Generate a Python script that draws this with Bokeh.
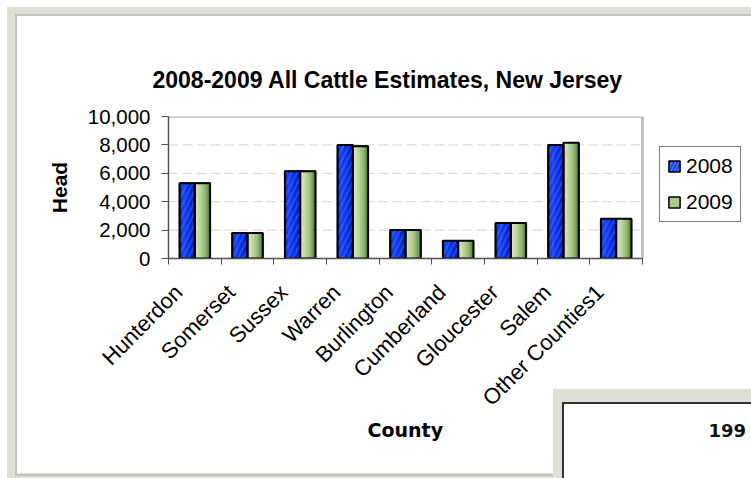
import math
from bokeh.plotting import figure
from bokeh.models import (Range1d, FixedTicker, NumeralTickFormatter, Legend, LegendItem, Title)
from bokeh.embed import file_html
from bokeh.resources import INLINE

# ---------------- data ----------------
counties = ["Hunterdon", "Somerset", "Sussex", "Warren", "Burlington",
            "Cumberland", "Gloucester", "Salem", "Other Counties1"]
head_2008 = [5300, 1800, 6150, 8000, 2000, 1250, 2500, 8000, 2800]
head_2009 = [5300, 1800, 6150, 7900, 2000, 1250, 2500, 8150, 2800]
series_names = ["2008", "2009"]
y_ticks = [0, 2000, 4000, 6000, 8000, 10000]
title_text = "2008-2009 All Cattle Estimates, New Jersey"
x_title = "County"
y_title = "Head"
other_chart_text = "199"

# ---------------- styles ----------------
FONT = "Liberation Sans"
PAGE_GRAY = "#dfdfd7"
EDGE_GRAY = "#c2c2c0"
blue_stops = [(0.0, (10, 26, 140)), (0.25, (26, 72, 255)), (0.5, (14, 52, 232)),
              (0.8, (6, 38, 200)), (1.0, (10, 30, 160))]
green_stops = [(0.0, (226, 237, 210)), (0.4, (188, 212, 156)), (0.75, (138, 178, 106)),
               (1.0, (63, 122, 44))]


def lerp(stops, t):
    for (t0, c0), (t1, c1) in zip(stops[:-1], stops[1:]):
        if t0 <= t <= t1:
            f = (t - t0) / (t1 - t0)
            return "#%02x%02x%02x" % tuple(int(round(a + (b - a) * f)) for a, b in zip(c0, c1))
    return "#%02x%02x%02x" % stops[-1][1]


W, H = 751, 478
FL, FT, FB = 168, 116, 258      # frame left / top / bottom (px)
BARS_RIGHT = 642                 # right end of the category area (px)
n = len(counties)
x_end = n * (W - FL) / (BARS_RIGHT - FL)   # frame runs on to the right edge (legend area)

p = figure(width=W, height=H, output_backend="svg", toolbar_location=None,
           x_range=Range1d(0, x_end), y_range=Range1d(0, y_ticks[-1]),
           min_border_left=FL, min_border_right=0, min_border_top=FT,
           min_border_bottom=H - FB)
p.border_fill_color = None
p.background_fill_color = "white"
p.outline_line_color = None

# page decoration (grey page, chart area, neighbouring chart box) as CSS backgrounds
layers = [  # (color, x, y, w, h) top-most first
    ("white", 564, 404, W - 564, H - 404),
    ("#333333", 562, 402, W - 562, H - 402),
    (PAGE_GRAY, 552.7, 389.3, W - 552.7, H - 389.3),
    ("white", 17, 16, W - 17, 457.5),
    (EDGE_GRAY, 15, 14, W - 15, 462),
    (PAGE_GRAY, 7, 7, W - 7, H - 7),
]
p.styles = {
    "background-color": "white",
    "background-image": ", ".join("linear-gradient(%s, %s)" % (c, c) for c, *_ in layers),
    "background-position": ", ".join("%spx %spx" % (x, y) for _, x, y, _w, _h in layers),
    "background-size": ", ".join("%spx %spx" % (w, h) for *_, w, h in layers),
    "background-repeat": "no-repeat",
}

# ---------------- grid and plot-area edges ----------------
grid_vals = y_ticks[1:-1]
p.segment(x0=[0] * len(grid_vals), x1=[n] * len(grid_vals), y0=grid_vals, y1=grid_vals,
          line_color="#d4d4d4", line_width=1, line_dash="10 4")
p.segment(x0=[0, n], x1=[n, n], y0=[y_ticks[-1], 0], y1=[y_ticks[-1], y_ticks[-1]],
          line_color=EDGE_GRAY, line_width=3)

# ---------------- bars ----------------
centers = [i + 0.5 for i in range(n)]
bar_w = 0.29
n_strips = 12
xs08 = [c - bar_w / 2 for c in centers]
xs09 = [c + bar_w / 2 for c in centers]

# base bars (also used for legend swatches)
leg08 = p.vbar(x=xs08, top=head_2008, bottom=0, width=bar_w, fill_color="#1238e0",
               hatch_pattern="/", hatch_color="#6a8cff", hatch_alpha=0.6, hatch_scale=7,
               hatch_weight=2, line_color="black", line_width=1.5)
leg09 = p.vbar(x=xs09, top=head_2009, bottom=0, width=bar_w, fill_color="#a9c88a",
               line_color="black", line_width=1.5)

series = [(head_2008, -bar_w / 2, blue_stops), (head_2009, bar_w / 2, green_stops)]
for vals, off, stops in series:
    for k in range(n_strips):
        col = lerp(stops, (k + 0.5) / n_strips)
        xs = [c + off - bar_w / 2 + (k + 0.5) * bar_w / n_strips for c in centers]
        p.vbar(x=xs, top=vals, bottom=0, width=bar_w / n_strips * 1.05,
               fill_color=col, line_color=col, line_width=0.5)

p.vbar(x=xs08, top=head_2008, bottom=0, width=bar_w, fill_color=None,
       hatch_pattern="/", hatch_color="#4f78ff", hatch_alpha=0.4, hatch_scale=11, hatch_weight=2,
       line_color="black", line_width=2)
p.vbar(x=xs09, top=head_2009, bottom=0, width=bar_w, fill_color=None,
       line_color="black", line_width=2)

legend = Legend(items=[LegendItem(label=series_names[0], renderers=[leg08]),
                       LegendItem(label=series_names[1], renderers=[leg09])],
                location=(659 - FL, FB - 222), orientation="vertical",
                border_line_color="black", border_line_width=1.2,
                background_fill_color="white", background_fill_alpha=1.0,
                label_text_font=FONT, label_text_font_size="21px", label_text_color="black",
                glyph_width=14, glyph_height=14, label_height=23, label_standoff=5,
                spacing=12, padding=7, margin=0)
p.add_layout(legend)

# ---------------- axes ----------------
p.xgrid.grid_line_color = None
p.ygrid.grid_line_color = None

p.yaxis.ticker = FixedTicker(ticks=y_ticks)
p.yaxis.formatter = NumeralTickFormatter(format="0,0")
p.yaxis.major_label_text_font = FONT
p.yaxis.major_label_text_font_size = "20.5px"
p.yaxis.major_label_text_color = "black"
p.yaxis.major_tick_out = 7
p.yaxis.major_tick_in = 0
p.yaxis.minor_tick_line_color = None
p.yaxis.major_label_standoff = 11
p.yaxis.axis_line_color = "#505050"
p.yaxis.major_tick_line_color = "#505050"
p.yaxis.axis_line_width = 1.5
p.yaxis.axis_label = y_title
p.yaxis.axis_label_text_font = FONT
p.yaxis.axis_label_text_font_style = "bold"
p.yaxis.axis_label_text_font_size = "21px"
p.yaxis.axis_label_text_color = "black"
p.yaxis.axis_label_standoff = 14

label_pos = [c - 0.31 for c in centers]
p.xaxis.bounds = (0, n)
p.xaxis.ticker = FixedTicker(ticks=label_pos, minor_ticks=list(range(n + 1)))
p.xaxis.major_label_overrides = {c: name for c, name in zip(label_pos, counties)}
p.xaxis.major_label_orientation = math.pi / 4
p.xaxis.major_label_text_font = FONT
p.xaxis.major_label_text_font_size = "22px"
p.xaxis.major_label_text_color = "black"
p.xaxis.major_tick_line_color = None
p.xaxis.major_tick_out = 6
p.xaxis.major_tick_in = 0
p.xaxis.minor_tick_out = 6
p.xaxis.minor_tick_in = 0
p.xaxis.minor_tick_line_color = "#505050"
p.xaxis.major_label_standoff = 24
p.xaxis.axis_line_color = "#505050"
p.xaxis.axis_line_width = 1.5

# ---------------- title ----------------
p.title.text = title_text
p.title.text_font = FONT
p.title.text_font_style = "bold"
p.title.text_font_size = "23px"
p.title.text_color = "black"
p.title.align = "left"
p.title.offset = 152 - FL
p.title.standoff = 48

# x axis title (placed below the category labels, centred on the bar area)
p.add_layout(Title(text=x_title, align="left", offset=367 - FL,
                   vertical_align="top", standoff=-8,
                   text_font="DejaVu Sans", text_font_style="bold", text_font_size="19px",
                   text_color="black"), "below")

# ---------------- neighbouring chart title (partly visible) ----------------
p.add_layout(Title(text=other_chart_text, align="left", offset=708 - FL,
                   vertical_align="top", standoff=-30,
                   text_font="DejaVu Sans", text_font_style="bold", text_font_size="18px",
                   text_color="#111111"), "below")

open("out.html", "w").write(file_html(p, INLINE))
